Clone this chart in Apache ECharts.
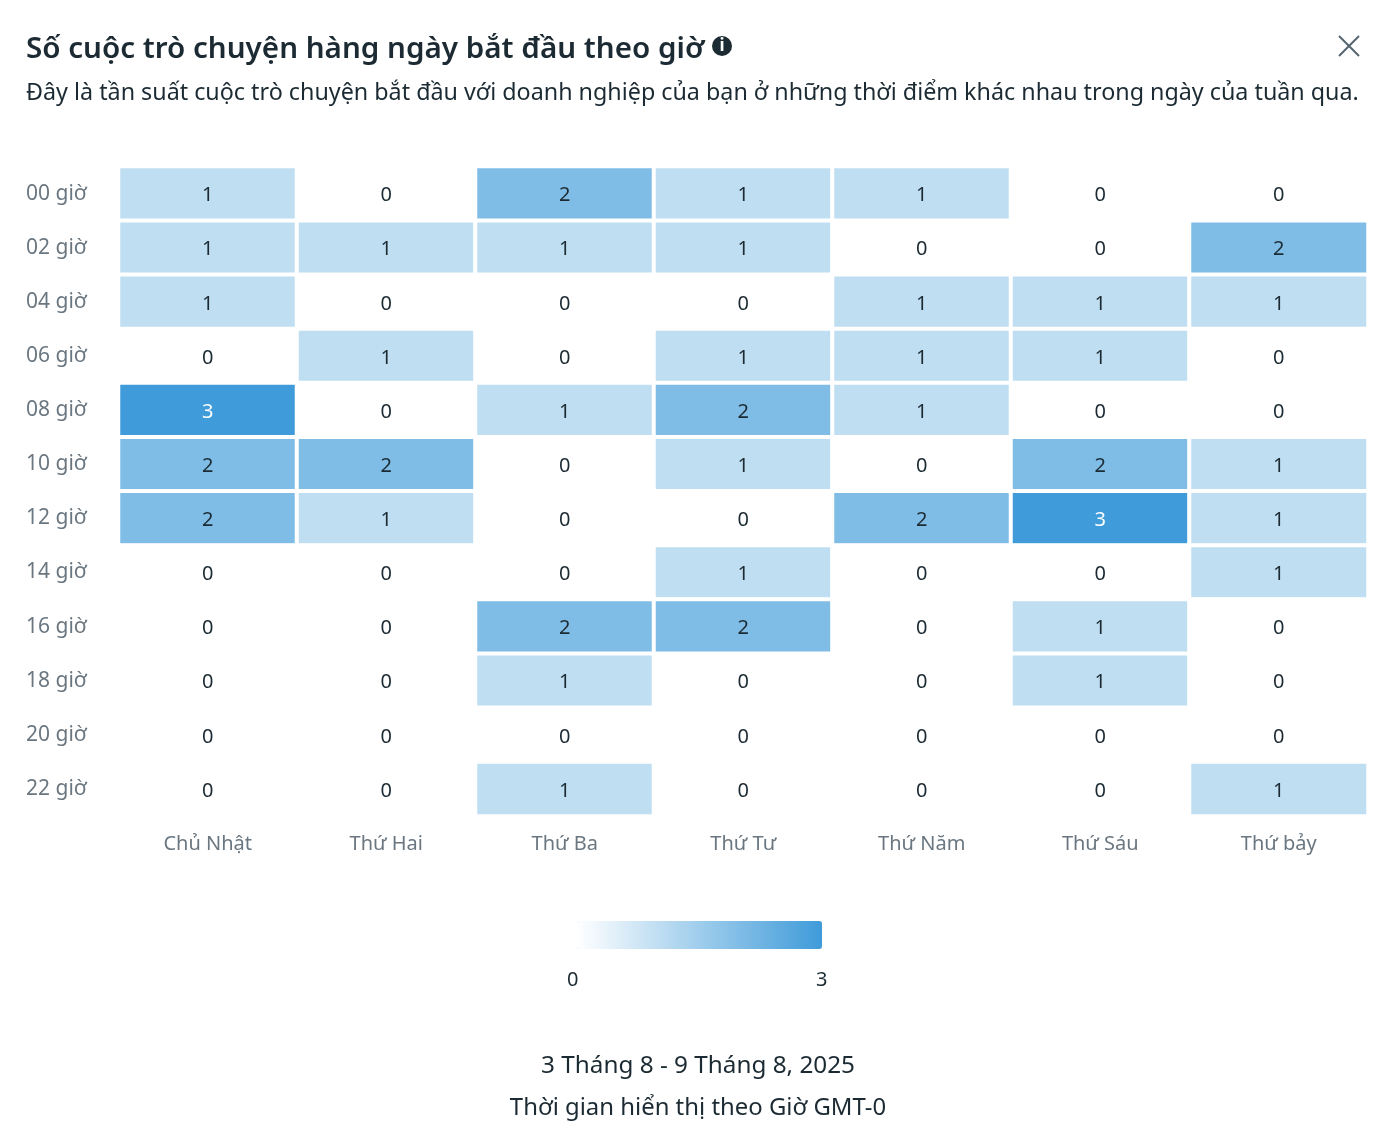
<!DOCTYPE html>
<html><head><meta charset="utf-8">
<style>html,body{margin:0;padding:0;background:#fff;overflow:hidden}#c{width:1396px;height:1148px}</style>
<script src="https://cdn.jsdelivr.net/npm/echarts@6/dist/echarts.min.js"></script>
</head><body><div id="c"></div>
<script>
const hours=['00 giờ','02 giờ','04 giờ','06 giờ','08 giờ','10 giờ','12 giờ','14 giờ','16 giờ','18 giờ','20 giờ','22 giờ'];
const days=['Chủ Nhật','Thứ Hai','Thứ Ba','Thứ Tư','Thứ Năm','Thứ Sáu','Thứ bảy'];
const sun=[1,1,1,0,3,2,2,0,0,0,0,0];
const mon=[0,1,0,1,0,2,1,0,0,0,0,0];
const tue=[2,1,0,0,1,0,0,0,2,1,0,1];
const wed=[1,1,0,1,2,1,0,1,2,0,0,0];
const thu=[1,0,1,1,1,0,2,0,0,0,0,0];
const fri=[0,0,1,1,0,2,3,0,1,1,0,0];
const sat=[0,2,1,0,0,1,1,1,0,0,0,1];
const cols=[sun,mon,tue,wed,thu,fri,sat];
const data=[];
cols.forEach((c,x)=>c.forEach((v,y)=>data.push({value:[x,y,v],label:{color:v===3?'#fff':'#1c2b33'}})));
const F='"Noto Sans",sans-serif';
const chart=echarts.init(document.getElementById('c'));
chart.setOption({
 animation:false,backgroundColor:'#fff',
 title:[
  {text:'Số cuộc trò chuyện hàng ngày bắt đầu theo giờ',left:21,top:30,textStyle:{fontFamily:F,fontSize:29.6,fontWeight:600,color:'#1c2b33'}},
  {text:'Đây là tần suất cuộc trò chuyện bắt đầu với doanh nghiệp của bạn ở những thời điểm khác nhau trong ngày của tuần qua.',left:21,top:77,textStyle:{fontFamily:F,fontSize:23.3,fontWeight:400,color:'#1c2b33'}},
  {text:'3 Tháng 8 - 9 Tháng 8, 2025',left:693,textAlign:'center',top:1049,textStyle:{fontFamily:F,fontSize:24.3,fontWeight:400,color:'#1c2b33'}},
  {text:'Thời gian hiển thị theo Giờ GMT-0',left:693,textAlign:'center',top:1091,textStyle:{fontFamily:F,fontSize:23.9,fontWeight:400,color:'#1c2b33'}}
 ],
 grid:{left:118.5,top:166.5,width:1249.5,height:649.5},
 xAxis:{type:'category',data:days,axisLine:{show:false},axisTick:{show:false},splitLine:{show:false},axisLabel:{color:'#6b7780',fontFamily:F,fontSize:20,margin:18}},
 yAxis:{type:'category',inverse:true,data:hours,axisLine:{show:false},axisTick:{show:false},splitLine:{show:false},axisLabel:{color:'#6b7780',fontFamily:F,fontSize:21,margin:92.5,align:'left',verticalAlign:'middle',lineHeight:21,padding:[0,0,12,0]}},
 visualMap:{type:'continuous',min:0,max:3,orient:'horizontal',left:562,top:906,itemWidth:28,itemHeight:245,borderRadius:0,itemStyle:{borderRadius:0},calculable:false,show:true,showLabel:false,inRange:{color:['#ffffff','#3f9bd9']}},
 graphic:[
  {type:'text',left:567,top:970,style:{text:'0',fontFamily:F,fontSize:20,fill:'#1c2b33'}},
  {type:'text',left:816,top:970,style:{text:'3',fontFamily:F,fontSize:20,fill:'#1c2b33'}},
  {type:'circle',shape:{cx:722,cy:46,r:10},style:{fill:'#1c2b33'}},
  {type:'text',x:722,y:46,style:{text:'i',fontFamily:F,fontSize:17,fontWeight:700,fill:'#fff',align:'center',verticalAlign:'middle'}},
  {type:'line',shape:{x1:1339,y1:36,x2:1359,y2:56},style:{stroke:'#55646e',lineWidth:2}},
  {type:'line',shape:{x1:1359,y1:36,x2:1339,y2:56},style:{stroke:'#55646e',lineWidth:2}}
 ],
 series:[{type:'heatmap',data:data,itemStyle:{borderColor:'#fff',borderWidth:4},
  label:{show:true,fontFamily:F,fontSize:20,offset:[0,2],formatter:p=>p.value[2]}}]
});
</script></body></html>
